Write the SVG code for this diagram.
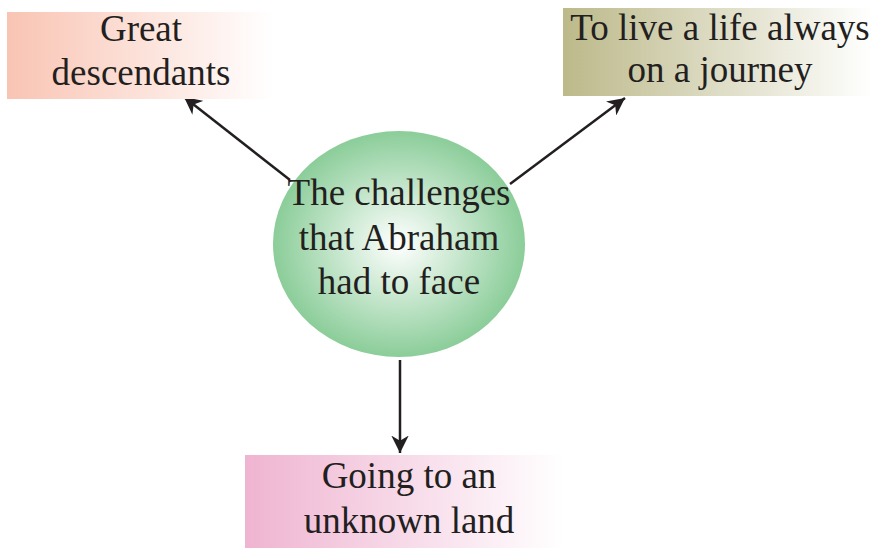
<svg xmlns="http://www.w3.org/2000/svg" width="873" height="548" viewBox="0 0 873 548">
<style>
text{font-family:"Liberation Serif","Times New Roman",serif;font-size:37px;fill:#231f20;text-anchor:middle}
.conn line{stroke:#231f20;stroke-width:2.5;fill:none}
</style>
<defs>
<linearGradient id="gSalmon" x1="0" y1="0" x2="1" y2="0"><stop offset="0" stop-color="#f9c4b3"/><stop offset="1" stop-color="#ffffff"/></linearGradient>
<linearGradient id="gOlive" x1="0" y1="0" x2="1" y2="0"><stop offset="0" stop-color="#bcb98a"/><stop offset="1" stop-color="#ffffff"/></linearGradient>
<linearGradient id="gPink" x1="0" y1="0" x2="1" y2="0"><stop offset="0" stop-color="#efb4d1"/><stop offset="1" stop-color="#ffffff"/></linearGradient>
<radialGradient id="gGreen" cx="0.5" cy="0.5" r="0.5"><stop offset="0" stop-color="#ffffff"/><stop offset="1" stop-color="#8bcd99"/></radialGradient>
<marker id="arr" viewBox="0 0 10 10" refX="10" refY="5" markerWidth="7" markerHeight="7" markerUnits="strokeWidth" orient="auto"><path d="M0,0 L10,5 L0,10 L3,5 Z" fill="#231f20"/></marker>
</defs>
<g id="center">
<ellipse cx="399" cy="244" rx="126" ry="113" fill="url(#gGreen)"/>
</g>
<g class="conn" id="connectors">
<line x1="290" y1="180" x2="184" y2="97" marker-end="url(#arr)"/>
<line x1="510" y1="184" x2="625" y2="98" marker-end="url(#arr)"/>
<line x1="400" y1="360" x2="400" y2="453" marker-end="url(#arr)"/>
</g>
<g id="center-text">
<text x="399" y="205">The challenges</text>
<text x="399" y="250">that Abraham</text>
<text x="399" y="294">had to face</text>
</g>
<g id="great">
<rect x="7" y="12" width="266" height="87" fill="url(#gSalmon)"/>
<text x="141" y="41">Great</text>
<text x="141" y="85">descendants</text>
</g>
<g id="journey">
<rect x="563" y="8" width="310" height="88" fill="url(#gOlive)"/>
<text x="720" y="40">To live a life always</text>
<text x="720" y="82">on a journey</text>
</g>
<g id="unknown">
<rect x="245" y="455" width="318" height="93" fill="url(#gPink)"/>
<text x="409" y="488">Going to an</text>
<text x="409" y="533">unknown land</text>
</g>
</svg>
